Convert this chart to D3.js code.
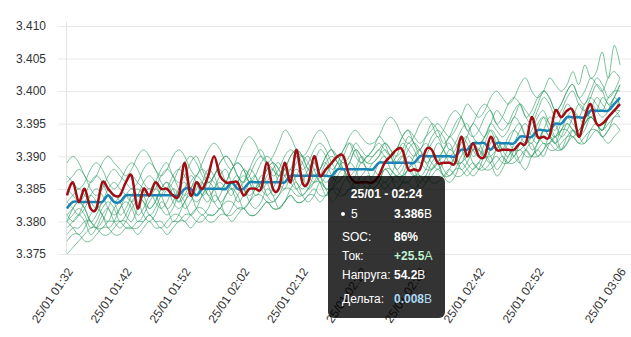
<!DOCTYPE html>
<html>
<head>
<meta charset="utf-8">
<script src="https://cdn.jsdelivr.net/npm/d3@7"></script>
<style>
  html, body { margin: 0; padding: 0; background: #fff; }
  svg { display: block; font-family: "Liberation Sans", Arial, Helvetica, sans-serif; }
</style>
</head>
<body>
<svg id="chart" width="631" height="337"></svg>
<script>
// Cell voltages in millivolts, one reading per minute from 25/01 01:32 to 03:06
const cell1 = [3386,3387,3388,3387,3385,3384,3385,3387,3388,3387, 3386,3385,3386,3388,3389,3388,3386,3385,3386,3388, 3389,3390,3389,3387,3386,3387,3389,3390,3389,3387, 3386,3387,3389,3390,3389,3388,3387,3388,3390,3391, 3390,3388,3387,3388,3390,3391,3390,3389,3390,3392, 3391,3390,3391,3392,3391,3390,3391,3393,3394,3393, 3392,3393,3394,3395,3394,3393,3394,3396,3398,3397, 3396,3397,3399,3400,3399,3398,3399,3401,3402,3400, 3399,3400,3402,3401,3400,3401,3403,3401,3404,3402, 3403,3406,3402,3407,3404];
const cell2 = [3389,3390,3389,3387,3386,3387,3389,3390,3389,3388, 3387,3388,3390,3391,3390,3388,3387,3388,3390,3391, 3390,3388,3387,3389,3391,3392,3391,3389,3388,3390, 3392,3393,3392,3390,3389,3390,3392,3394,3393,3391, 3390,3391,3393,3394,3393,3391,3390,3391,3393,3394, 3393,3392,3392,3393,3395,3396,3395,3393,3392,3393, 3395,3396,3395,3393,3394,3396,3397,3396,3394,3395, 3397,3398,3397,3395,3396,3398,3399,3398,3396,3397, 3399,3400,3399,3397,3398,3400,3401,3399,3398,3400, 3402,3401,3399,3400,3402];
const cell3 = [3387,3386,3385,3386,3388,3389,3388,3386,3385,3386, 3388,3389,3388,3386,3385,3386,3388,3389,3387,3386, 3387,3389,3390,3388,3386,3387,3389,3390,3389,3387, 3386,3388,3390,3391,3389,3387,3388,3390,3391,3390, 3388,3389,3391,3392,3391,3389,3388,3390,3392,3391, 3389,3390,3391,3393,3392,3390,3391,3393,3394,3392, 3391,3393,3395,3394,3392,3393,3395,3396,3394,3393, 3394,3396,3397,3395,3394,3395,3397,3398,3396,3395, 3397,3399,3398,3396,3397,3399,3400,3398,3397,3399, 3401,3400,3398,3399,3401];
const cell4 = [3385,3384,3383,3384,3386,3387,3386,3384,3383,3384, 3386,3387,3386,3385,3384,3385,3387,3388,3387,3385, 3384,3385,3387,3388,3387,3386,3385,3386,3388,3389, 3388,3386,3385,3386,3388,3389,3388,3387,3388,3390, 3389,3387,3386,3387,3389,3390,3389,3388,3389,3391, 3390,3389,3390,3391,3390,3389,3390,3392,3391,3390, 3391,3392,3391,3390,3391,3393,3392,3391,3393,3395, 3394,3393,3395,3397,3396,3395,3396,3398,3397,3396, 3398,3400,3399,3397,3398,3400,3401,3399,3400,3402, 3401,3400,3402,3403,3402];
const cell5 = [3384,3386,3383,3385,3382,3382,3386,3385,3384,3384, 3386,3387,3382,3385,3384,3386,3385,3385,3384,3384, 3389,3384,3386,3385,3387,3390,3387,3386,3386,3386, 3384,3385,3385,3385,3389,3385,3385,3389,3386,3391, 3386,3386,3390,3387,3388,3389,3390,3390,3387,3386, 3386,3386,3386,3387,3389,3390,3391,3391,3388,3388, 3388,3391,3391,3389,3389,3389,3389,3393,3390,3392, 3390,3390,3393,3391,3391,3391,3391,3392,3392,3396, 3393,3393,3393,3397,3396,3397,3397,3393,3396,3398, 3395,3395,3396,3397,3398];
const cell6 = [3383,3384,3385,3384,3383,3382,3383,3385,3386,3385, 3384,3383,3384,3386,3387,3386,3384,3385,3387,3388, 3387,3385,3384,3386,3388,3387,3385,3386,3388,3389, 3388,3386,3387,3389,3390,3389,3387,3388,3390,3391, 3390,3388,3389,3391,3390,3388,3389,3391,3392,3390, 3389,3390,3390,3391,3392,3391,3390,3391,3393,3392, 3390,3391,3393,3394,3393,3391,3392,3394,3395,3393, 3392,3393,3395,3394,3393,3394,3396,3395,3393,3394, 3396,3397,3395,3394,3396,3398,3397,3396,3398,3399, 3398,3397,3399,3400,3400];
const cell7 = [3383,3382,3381,3382,3384,3385,3384,3382,3381,3382, 3384,3385,3384,3383,3382,3383,3385,3386,3385,3383, 3384,3386,3387,3386,3384,3385,3387,3388,3386,3385, 3386,3388,3387,3385,3386,3388,3389,3387,3386,3387, 3389,3390,3388,3386,3387,3389,3390,3388,3387,3388, 3390,3389,3389,3390,3391,3390,3388,3389,3391,3392, 3391,3389,3390,3392,3391,3389,3390,3392,3393,3391, 3390,3392,3394,3393,3391,3392,3394,3395,3393,3392, 3394,3396,3395,3393,3394,3396,3397,3396,3395,3397, 3399,3398,3397,3399,3401];
const cell8 = [3381,3382,3383,3382,3380,3381,3383,3384,3383,3381, 3382,3384,3385,3384,3382,3383,3385,3386,3384,3383, 3385,3387,3386,3384,3385,3387,3388,3386,3385,3386, 3388,3387,3385,3386,3388,3389,3388,3386,3387,3389, 3390,3389,3387,3388,3390,3391,3389,3388,3389,3391, 3390,3388,3389,3390,3392,3391,3389,3390,3392,3391, 3389,3390,3392,3393,3391,3390,3391,3393,3392,3390, 3391,3393,3394,3392,3391,3393,3394,3393,3392,3393, 3395,3396,3394,3393,3395,3396,3395,3394,3396,3398, 3397,3396,3397,3399,3398];
const cell9 = [3381,3380,3381,3383,3384,3383,3381,3380,3382,3383, 3384,3383,3381,3382,3384,3385,3384,3382,3383,3385, 3386,3384,3383,3384,3386,3385,3383,3384,3386,3387, 3385,3384,3385,3387,3386,3384,3385,3387,3388,3386, 3385,3386,3388,3387,3385,3386,3388,3389,3387,3386, 3387,3388,3388,3387,3386,3387,3389,3390,3388,3387, 3388,3390,3389,3388,3389,3391,3390,3388,3389,3391, 3392,3390,3389,3391,3392,3391,3390,3392,3393,3391, 3392,3394,3393,3392,3394,3395,3394,3393,3395,3396, 3395,3394,3396,3397,3398];
const cell10 = [3380,3381,3382,3381,3379,3380,3382,3383,3382,3380, 3381,3383,3384,3383,3381,3382,3384,3385,3383,3382, 3383,3385,3386,3384,3383,3385,3386,3385,3384,3386, 3387,3386,3384,3385,3387,3388,3386,3385,3387,3388, 3387,3385,3386,3388,3389,3387,3386,3387,3389,3388, 3386,3387,3387,3389,3390,3388,3387,3388,3390,3389, 3387,3388,3390,3389,3387,3388,3390,3391,3389,3388, 3389,3391,3390,3388,3389,3391,3390,3389,3391,3392, 3390,3391,3393,3392,3391,3393,3394,3393,3394,3396, 3395,3394,3396,3397,3397];
const cell11 = [3380,3379,3378,3379,3381,3382,3381,3379,3380,3382, 3383,3382,3380,3381,3383,3384,3382,3381,3382,3384, 3383,3381,3382,3384,3385,3383,3382,3384,3385,3384, 3382,3383,3385,3386,3384,3383,3384,3386,3387,3385, 3384,3385,3387,3386,3384,3385,3387,3388,3386,3385, 3386,3386,3385,3386,3388,3387,3386,3387,3389,3388, 3386,3387,3389,3390,3388,3387,3388,3390,3391,3389, 3388,3389,3391,3392,3390,3389,3391,3392,3391,3390, 3392,3394,3393,3392,3393,3395,3394,3393,3395,3396, 3395,3394,3396,3397,3396];
const cell12 = [3379,3380,3381,3380,3378,3379,3381,3382,3380,3379, 3380,3382,3383,3381,3380,3381,3383,3382,3380,3381, 3383,3384,3382,3381,3382,3384,3383,3381,3382,3384, 3385,3383,3382,3383,3385,3384,3382,3383,3385,3386, 3384,3383,3384,3386,3385,3383,3384,3386,3387,3385, 3384,3385,3385,3386,3388,3387,3385,3386,3388,3387, 3385,3386,3388,3389,3387,3386,3387,3389,3388,3387, 3388,3390,3389,3387,3388,3390,3391,3389,3388,3390, 3391,3390,3392,3393,3391,3392,3394,3393,3392,3394, 3395,3393,3394,3396,3396];
const cell13 = [3378,3379,3379,3380,3380,3379,3379,3380,3380,3380, 3379,3379,3380,3380,3381,3380,3380,3379,3380,3380, 3381,3381,3380,3380,3381,3381,3382,3381,3381,3382, 3382,3381,3381,3382,3383,3382,3382,3383,3384,3383, 3383,3384,3384,3383,3384,3385,3384,3384,3385,3385, 3384,3384,3384,3385,3386,3385,3385,3386,3386,3385, 3386,3387,3386,3386,3387,3388,3387,3387,3388,3389, 3388,3388,3389,3390,3389,3389,3390,3391,3390,3390, 3391,3392,3391,3391,3392,3393,3393,3392,3393,3394, 3394,3393,3394,3395,3394];
const cell14 = [3377,3378,3378,3377,3377,3378,3379,3379,3378,3378, 3379,3379,3378,3379,3380,3379,3379,3378,3379,3380, 3380,3379,3380,3381,3380,3380,3381,3381,3380,3381, 3382,3381,3381,3382,3383,3382,3382,3383,3384,3383, 3383,3384,3385,3384,3384,3385,3385,3384,3385,3386, 3386,3385,3386,3386,3385,3386,3387,3386,3386,3387, 3387,3386,3387,3388,3387,3387,3388,3388,3387,3388, 3389,3388,3388,3389,3390,3389,3389,3390,3391,3390, 3390,3391,3392,3391,3391,3392,3393,3392,3392,3393, 3394,3393,3392,3393,3394];
const cell15 = [3375,3376,3377,3378,3379,3379,3378,3378,3379,3380, 3380,3379,3379,3380,3381,3380,3379,3380,3381,3381, 3380,3381,3382,3382,3381,3381,3382,3383,3383,3382, 3382,3383,3384,3384,3383,3383,3384,3385,3385,3384, 3384,3385,3386,3386,3385,3385,3386,3387,3387,3386, 3386,3386,3386,3387,3388,3388,3387,3387,3388,3389, 3389,3388,3388,3389,3390,3390,3389,3389,3390,3391, 3391,3390,3390,3391,3392,3392,3391,3391,3392,3393, 3393,3392,3392,3393,3394,3394,3393,3394,3395,3396, 3395,3394,3395,3396,3397];
const cell16 = [3380,3382,3383,3382,3380,3379,3380,3382,3384,3383, 3381,3380,3382,3384,3385,3383,3382,3383,3385,3384, 3382,3383,3385,3386,3384,3383,3384,3386,3385,3383, 3384,3386,3387,3385,3384,3385,3387,3388,3386,3385, 3386,3388,3389,3387,3386,3387,3389,3388,3386,3387, 3389,3388,3386,3387,3389,3390,3388,3387,3388,3390, 3391,3389,3388,3389,3391,3392,3390,3389,3391,3392, 3391,3390,3392,3393,3391,3390,3392,3394,3395,3393, 3392,3394,3396,3395,3393,3394,3396,3398,3397,3396, 3397,3399,3398,3397,3399];

// Pack average (mV), as reported per minute
const avgVolts = [3382,3383,3383,3383,3383,3383,3383,3384,3383,3383, 3384,3384,3384,3384,3384,3384,3384,3384,3384,3384, 3385,3385,3384,3385,3385,3385,3385,3385,3386,3385, 3385,3386,3386,3386,3386,3386,3386,3386,3387,3387, 3387,3387,3387,3387,3387,3387,3388,3388,3388,3388, 3388,3388,3388,3389,3389,3389,3389,3389,3389,3389, 3390,3390,3390,3390,3390,3390,3390,3391,3391,3392, 3392,3392,3391,3392,3392,3392,3392,3393,3393,3393, 3394,3394,3394,3395,3395,3396,3396,3396,3396,3397, 3397,3397,3397,3398,3399];

const cells = [cell1, cell2, cell3, cell4, cell5, cell6, cell7, cell8,
               cell9, cell10, cell11, cell12, cell13, cell14, cell15, cell16];
const highlightCell = 5;          // drawn in red
const yTicks = [3.375, 3.380, 3.385, 3.390, 3.395, 3.400, 3.405, 3.410];
const xTickLabels = ["01:32", "01:42", "01:52", "02:02", "02:12", "02:22", "02:32", "02:42", "02:52", "03:06"];
const hoverTime = "02:24";
const socPercent = 86;
const currentAmps = 25.5;

// time axis: one sample per minute starting at 01:32
const t0 = new Date(2025, 0, 25, 1, 32);
const times = cell1.map((_, i) => d3.timeMinute.offset(t0, i));
const parseHM = hm => { const [h, m] = hm.split(":").map(Number); return new Date(2025, 0, 25, h, m); };

const svg = d3.select("#chart");
const plot = { left: 67, right: 620, top: 26, bottom: 254, gridRight: 631 };

const x = d3.scaleTime().domain(d3.extent(times)).range([plot.left, plot.right]);
const y = d3.scaleLinear().domain([3.375, 3.410]).range([plot.bottom, plot.top]);

// horizontal grid + y labels
const yAxis = d3.axisLeft(y).tickValues(yTicks).tickFormat(d3.format(".3f"))
  .tickSize(-(plot.gridRight - plot.left + 9)).tickPadding(12);
const gy = svg.append("g").attr("transform", `translate(${plot.left - 9},0)`).call(yAxis);
gy.select(".domain").remove();
gy.selectAll(".tick line").attr("stroke", "#e8e8e8").attr("stroke-width", 1);
gy.selectAll(".tick text").attr("fill", "#333").style("font-size", "12px");

// y axis line
svg.append("line").attr("x1", plot.left - 0.5).attr("x2", plot.left - 0.5)
  .attr("y1", plot.top - 4).attr("y2", plot.bottom).attr("stroke", "#e3e3e3");

// x labels
const gx = svg.append("g");
xTickLabels.forEach(lbl => {
  const tx = x(parseHM(lbl));
  gx.append("text")
    .attr("transform", `translate(${tx + 3},${plot.bottom + 15}) rotate(-56)`)
    .attr("text-anchor", "end").attr("dy", "0.35em")
    .attr("fill", "#333").style("font-size", "12px")
    .text(d3.timeFormat("%d/%m ")(parseHM(lbl)) + lbl);
});

const line = d3.line()
  .x((d, i) => x(times[i]))
  .y(d => y(d / 1000))
  .curve(d3.curveCardinal.tension(0));

// other cells
svg.append("g").selectAll("path")
  .data(cells.filter((_, i) => i !== highlightCell - 1))
  .join("path")
  .attr("d", line)
  .attr("fill", "none")
  .attr("stroke", "#2a9a60")
  .attr("stroke-opacity", 0.62)
  .attr("stroke-width", 1);

// pack average
svg.append("path").attr("d", line(avgVolts))
  .attr("fill", "none").attr("stroke", "#1a84b5").attr("stroke-width", 2.5);

// highlighted cell
svg.append("path").attr("d", line(cells[highlightCell - 1]))
  .attr("fill", "none").attr("stroke", "#a00d14").attr("stroke-width", 2.5);

// tooltip for the hovered minute
const hi = times.findIndex(t => +t === +parseHM(hoverTime));
const valuesAt = cells.map(c => c[hi]);
const cellV = cells[highlightCell - 1][hi] / 1000;
const packV = d3.sum(valuesAt) / 1000;
const deltaV = (d3.max(valuesAt) - d3.min(valuesAt)) / 1000;

const tip = svg.append("g").style("font-size", "12px");
tip.append("rect").attr("x", 328).attr("y", 176).attr("width", 117).attr("height", 142)
  .attr("rx", 6).attr("fill", "rgba(0,0,0,0.8)");
tip.append("text").attr("x", 386.5).attr("y", 198).attr("text-anchor", "middle")
  .attr("fill", "#fff").attr("font-weight", "bold")
  .text(d3.timeFormat("%d/%m")(parseHM(hoverTime)) + " - " + hoverTime);
tip.append("circle").attr("cx", 343).attr("cy", 214).attr("r", 2).attr("fill", "#fff");

const rows = [
  { label: String(highlightCell), y: 218, lx: 351, value: d3.format(".3f")(cellV), unit: "В", color: "#fff" },
  { label: "SOC:", y: 241, lx: 342, value: socPercent + "%", unit: "", color: "#fff" },
  { label: "Ток:", y: 260, lx: 342, value: "+" + d3.format(".1f")(currentAmps), unit: "А", color: "#bff3d3" },
  { label: "Напруга:", y: 279, lx: 342, value: d3.format(".1f")(packV), unit: "В", color: "#fff" },
  { label: "Дельта:", y: 303, lx: 342, value: d3.format(".3f")(deltaV), unit: "В", color: "#acd9f3" }
];
rows.forEach(r => {
  tip.append("text").attr("x", r.lx).attr("y", r.y).attr("fill", "#fff").text(r.label);
  const t = tip.append("text").attr("x", 394).attr("y", r.y).attr("fill", r.color);
  t.append("tspan").attr("font-weight", "bold").text(r.value);
  if (r.unit) t.append("tspan").text(r.unit);
});
</script>
</body>
</html>
